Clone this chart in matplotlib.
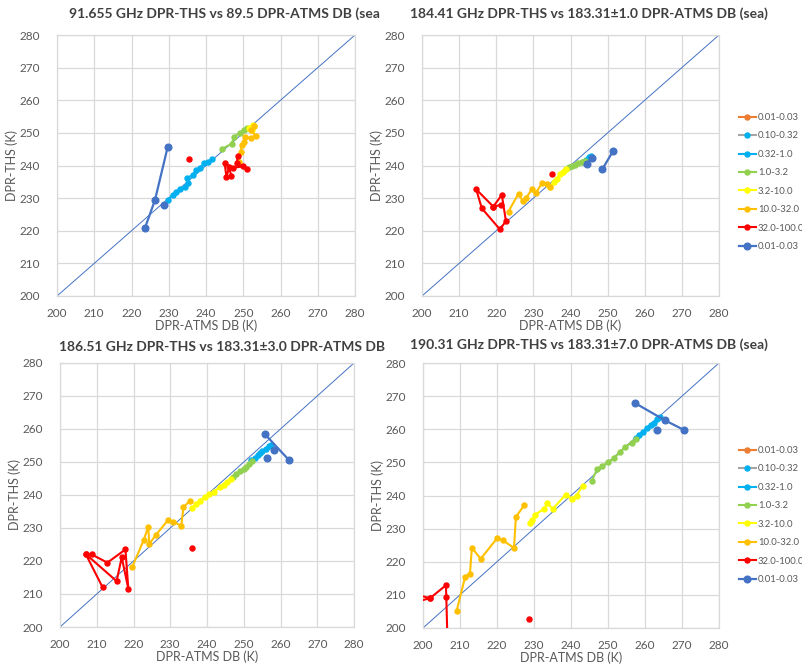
import matplotlib
matplotlib.use("Agg")
import matplotlib.pyplot as plt
import numpy as np

plt.rcParams['font.family'] = ['Lato', 'DejaVu Sans']

nan = np.nan

# legend order / colours
series_labels = ['0.01-0.03', '0.10-0.32', '0.32-1.0', '1.0-3.2', '3.2-10.0',
                 '10.0-32.0', '32.0-100.0', '0.01-0.03']
line_colors = ['#ED7D31', '#A5A5A5', '#00B0F0', '#92D050', '#FFFF00',
               '#FFC000', '#FF0000', '#4472C4']
marker_colors = ['#ED7D31', '#00B0F0', '#00B0F0', '#92D050', '#FFFF00',
                 '#FFC000', '#FF0000', '#4472C4']

titles = ['91.655 GHz DPR-THS vs 89.5 DPR-ATMS DB (sea',
          '184.41 GHz DPR-THS vs 183.31\u00b11.0 DPR-ATMS DB (sea)',
          '186.51 GHz DPR-THS vs 183.31\u00b13.0 DPR-ATMS DB',
          '190.31 GHz DPR-THS vs 183.31\u00b17.0 DPR-ATMS DB (sea)']

# ---- chart 1 : 91.655 GHz
c1_lblue_x = [229.8, 231.1, 232.0, 233.0, 234.3, 235.2, 234.9, 236.4, 237.3, 238.3, 239.4, 240.5, 241.7]
c1_lblue_y = [229.4, 231.0, 231.8, 232.8, 233.5, 234.6, 236.1, 237.1, 238.6, 239.1, 240.7, 241.0, 241.9]
c1_green_x = [244.2, 246.9, 247.5, 249.0, 250.1, 251.0]
c1_green_y = [245.0, 246.7, 248.8, 250.0, 250.9, 251.5]
c1_yellow_x = [251.5, 252.5, 253.0, 252.3]
c1_yellow_y = [251.5, 252.4, 252.0, 251.0]
c1_gold_x = [252.8, 252.2, 253.3, 252.0, 250.6, 250.2, 249.6, 249.3, 248.8]
c1_gold_y = [252.0, 250.8, 249.0, 248.5, 248.6, 247.3, 246.3, 244.0, 241.2]
c1_red_x = [248.6, 248.2, 251.0, 249.8, 247.2, 245.0, 245.5, 246.2, 246.8, nan, 235.5]
c1_red_y = [243.0, 240.7, 238.8, 239.7, 239.3, 240.7, 236.4, 239.5, 236.7, nan, 242.0]
c1_dblue_x = [223.6, 226.3, 229.7, nan, 228.8]
c1_dblue_y = [220.8, 229.4, 245.6, nan, 227.9]

# ---- chart 2 : 184.41 GHz
c2_lblue_x = [243.5, 244.3, 245.0, 245.5, 245.3]
c2_lblue_y = [241.0, 241.8, 242.5, 243.0, 242.2]
c2_green_x = [238.8, 239.5, 240.5, 241.3, 242.0, 243.0, 243.8]
c2_green_y = [238.8, 239.4, 239.9, 240.3, 240.7, 241.0, 241.3]
c2_yellow_x = [234.5, 235.5, 236.3, 237.2, 238.0, 238.8]
c2_yellow_y = [233.5, 234.8, 236.0, 237.3, 238.0, 238.8]
c2_gold_x = [223.3, 226.0, 227.1, 228.0, 229.6, 230.6, 232.3, 233.6, 234.5]
c2_gold_y = [225.9, 231.4, 229.1, 230.0, 232.7, 231.5, 234.5, 234.2, 233.4]
c2_red_x = [221.2, 219.2, 214.6, 216.1, 221.0, 222.6, 221.5, 219.2, nan, 234.9]
c2_red_y = [227.9, 227.4, 232.7, 226.9, 220.4, 223.0, 231.0, 227.4, nan, 237.4]
c2_dblue_x = [244.4, 245.7, nan, 248.6, 251.4]
c2_dblue_y = [240.5, 242.4, nan, 238.9, 244.3]

# ---- chart 3 : 186.51 GHz
c3_lblue_x = [252.0, 253.0, 254.0, 254.3, 255.0, 256.0, 256.8, 257.5]
c3_lblue_y = [250.5, 251.3, 252.0, 252.7, 253.3, 254.0, 254.8, 255.2]
c3_green_x = [247.0, 248.0, 249.0, 250.0, 250.7, 251.5, 252.3]
c3_green_y = [245.5, 246.5, 247.2, 247.8, 248.6, 249.4, 250.2]
c3_yellow_x = [236.0, 237.0, 238.0, 239.5, 240.5, 242.0, 243.5, 244.5, 245.5, 246.5]
c3_yellow_y = [236.0, 237.3, 238.2, 239.5, 240.2, 241.0, 242.5, 243.0, 244.0, 244.8]
c3_gold_x = [219.7, 222.8, 224.0, 224.3, 226.1, 229.4, 230.8, 233.0, 233.6, 235.3]
c3_gold_y = [218.3, 226.4, 230.4, 225.2, 227.9, 232.4, 231.9, 230.7, 236.3, 238.2]
c3_red_x = [211.6, 207.0, 208.6, 212.9, 217.8, 218.6, 216.8, 215.4, 207.0, nan, 236.0]
c3_red_y = [212.0, 222.1, 222.0, 219.5, 223.5, 211.5, 221.1, 213.9, 222.1, nan, 224.0]
c3_dblue_x = [255.7, 262.3, nan, 258.2, nan, 256.4]
c3_dblue_y = [258.5, 250.6, nan, 253.5, nan, 251.2]

# ---- chart 4 : 190.31 GHz
c4_lblue_x = [257.7, 258.5, 259.5, 260.5, 261.5, 262.5, 263.3, 264.1]
c4_lblue_y = [257.5, 258.3, 259.3, 260.3, 261.3, 262.0, 263.0, 263.8]
c4_green_x = [245.6, 247.0, 248.5, 250.0, 251.5, 253.2, 254.5, 256.4, 257.5]
c4_green_y = [244.3, 247.9, 249.0, 250.0, 251.2, 253.0, 254.5, 256.0, 257.0]
c4_yellow_x = [228.9, 229.5, 230.3, 232.7, 233.6, 235.1, 238.6, 240.2, 241.5, 243.2]
c4_yellow_y = [231.7, 232.5, 234.2, 236.0, 237.6, 236.0, 240.3, 239.0, 240.0, 243.0]
c4_gold_x = [209.1, 211.4, 212.7, 213.2, 215.6, 220.1, 221.5, 224.6, 225.1, 227.3]
c4_gold_y = [205.2, 215.5, 216.4, 224.2, 220.9, 227.2, 226.5, 224.2, 233.5, 237.0]
c4_red_x = [190.0, 201.9, 206.2, 206.3, 207.0, nan, 190.0, 201.9, nan, 228.6]
c4_red_y = [212.5, 209.0, 212.9, 209.3, 180.0, nan, 205.5, 209.0, nan, 202.6]
c4_dblue_x = [257.3, 265.4, 270.5, nan, 263.2]
c4_dblue_y = [267.9, 262.7, 259.8, nan, 259.8]

charts = [
    [([], []), ([], []), (c1_lblue_x, c1_lblue_y), (c1_green_x, c1_green_y), (c1_yellow_x, c1_yellow_y),
     (c1_gold_x, c1_gold_y), (c1_red_x, c1_red_y), (c1_dblue_x, c1_dblue_y)],
    [([], []), ([], []), (c2_lblue_x, c2_lblue_y), (c2_green_x, c2_green_y), (c2_yellow_x, c2_yellow_y),
     (c2_gold_x, c2_gold_y), (c2_red_x, c2_red_y), (c2_dblue_x, c2_dblue_y)],
    [([], []), ([], []), (c3_lblue_x, c3_lblue_y), (c3_green_x, c3_green_y), (c3_yellow_x, c3_yellow_y),
     (c3_gold_x, c3_gold_y), (c3_red_x, c3_red_y), (c3_dblue_x, c3_dblue_y)],
    [([], []), ([], []), (c4_lblue_x, c4_lblue_y), (c4_green_x, c4_green_y), (c4_yellow_x, c4_yellow_y),
     (c4_gold_x, c4_gold_y), (c4_red_x, c4_red_y), (c4_dblue_x, c4_dblue_y)],
]

W, H = 803, 666
fig = plt.figure(figsize=(W / 100, H / 100), dpi=100)

# axes boxes in pixels: left, right, top, bottom
boxes = [(57, 355, 35, 296), (422, 719, 35, 296), (60, 354, 363, 627), (423, 719, 363, 628)]
title_pos = [(224, 14), (589, 14), (222, 347), (589, 345)]
grid_c = '#D9D9D9'
text_c = '#595959'

for i, (l, r, t, b) in enumerate(boxes):
    ax = fig.add_axes([l / W, 1 - b / H, (r - l) / W, (b - t) / H])
    ax.set_xlim(200, 280)
    ax.set_ylim(200, 280)
    ax.set_xticks(range(200, 281, 10))
    ax.set_yticks(range(200, 281, 10))
    ax.grid(True, color=grid_c, lw=0.9)
    ax.set_axisbelow(True)
    for s in ax.spines.values():
        s.set_color(grid_c)
        s.set_linewidth(0.9)
    ax.tick_params(length=0, labelsize=8.5, colors=text_c)
    ax.tick_params(axis='x', pad=8.5)
    ax.tick_params(axis='y', pad=12)
    ax.set_xlabel('DPR-ATMS DB (K)', fontsize=9, color=text_c, labelpad=0.5)
    ax.set_ylabel('DPR-THS (K)', fontsize=9, color=text_c, labelpad=1)

    # 1:1 reference line
    ax.plot([200, 280], [200, 280], color='#4472C4', lw=0.7, zorder=2)

    handles = []
    for k, (xs, ys) in enumerate(charts[i]):
        big = k == 7
        h, = ax.plot(xs, ys, color=line_colors[k], lw=1.6 if big else 1.5,
                     marker='o', ms=4.8 if big else 3.6,
                     markerfacecolor=marker_colors[k], markeredgecolor=marker_colors[k],
                     label=series_labels[k], zorder=3)
        handles.append(h)

    fig.text(title_pos[i][0] / W, 1 - title_pos[i][1] / H, titles[i], ha='center', va='center',
             fontsize=10, fontweight='bold', color='#404040')

    if i in (1, 3):
        top = 113 if i == 1 else 446
        fig.legend(handles=handles, loc='upper left', bbox_to_anchor=(739 / W, 1 - top / H),
                   frameon=False, fontsize=6.8, handlelength=1.8, handletextpad=0.2,
                   labelspacing=1.0, borderpad=0, borderaxespad=0, labelcolor=text_c)

fig.savefig('out.png', dpi=100)
